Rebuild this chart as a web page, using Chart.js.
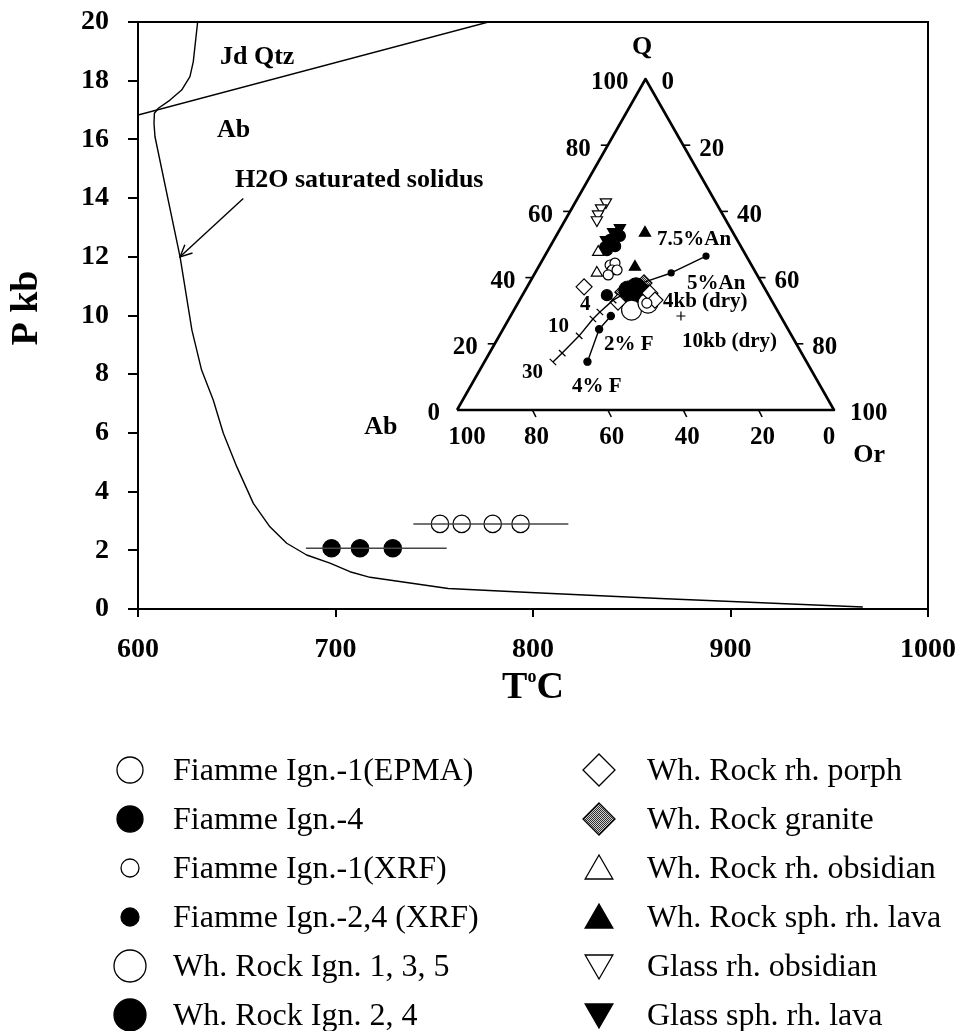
<!DOCTYPE html>
<html><head><meta charset="utf-8">
<script src="https://cdn.jsdelivr.net/npm/chart.js@4.4.1/dist/chart.umd.min.js"></script>
<style>html,body{margin:0;padding:0;background:#fff;}canvas{display:block;}</style>
</head><body>
<canvas id="c" width="973" height="1031"></canvas>
<script>
// ================= DATA =================
// Main P–T diagram (T in °C, P in kbar)
const xTickValues = [600, 700, 800, 900, 1000];
const yTickValues = [0, 2, 4, 6, 8, 10, 12, 14, 16, 18, 20];
const solidusT = [630.2, 628.0, 626.3, 622.1, 616.2, 610.3, 608.3, 608.1, 608.6, 621.3, 627.3, 632.2, 638.1, 643.2, 650.0, 658.4, 666.8, 675.3, 685.4, 697.2, 707.3, 717.5, 757.1, 798.5, 864.3, 967.0];
const solidusP = [20.0, 18.65, 18.14, 17.68, 17.34, 17.06, 16.89, 16.55, 16.09, 12.0, 9.5, 8.14, 7.12, 5.99, 4.85, 3.6, 2.80, 2.24, 1.84, 1.56, 1.27, 1.08, 0.70, 0.56, 0.36, 0.07];
const jdQtzT = [600, 777.4];
const jdQtzP = [16.83, 20];
const arrowT = [653.3, 621.3];
const arrowP = [13.99, 12.0];
const fiamme4T = [698.0, 712.4, 729.0];
const fiamme4P = [2.07, 2.07, 2.07];
const fiamme4RangeT = [685.0, 756.3];
const fiamme4RangeP = [2.07, 2.07];
const fiamme1T = [752.9, 763.9, 779.6, 793.7];
const fiamme1P = [2.90, 2.90, 2.90, 2.90];
const fiamme1RangeT = [739.4, 817.9];
const fiamme1RangeP = [2.90, 2.90];

// Ternary Q–Ab–Or inset (Q %, Or %; Ab = 100 - Q - Or)
const ternTickValues = [0, 20, 40, 60, 80, 100];
const outlineQ = [0, 0, 100, 0];
const outlineOr = [0, 100, 0, 0];
const glassObsQ = [62.8, 61.0, 59.2, 57.4];
const glassObsOr = [8.1, 7.7, 7.8, 8.4];
const glassLavaQ = [55.0, 53.8, 51.4];
const glassLavaOr = [15.7, 14.5, 13.8];
const fiamme24xrfQ = [51.4, 49.5, 49.2, 52.6, 48.3, 34.7];
const fiamme24xrfOr = [14.9, 17.2, 14.7, 16.9, 15.6, 22.4];
const wrObsQ = [47.7, 41.4];
const wrObsOr = [13.6, 16.4];
const wrLavaQ = [53.5, 43.2];
const wrLavaOr = [23.1, 25.6];
const fiamme1xrfQ = [43.8, 44.4, 42.3, 40.8, 42.3, 32.3];
const fiamme1xrfOr = [18.7, 19.7, 20.0, 19.7, 21.3, 34.2];
const wrPorphQ = [37.2, 35.3, 32.6, 33.2];
const wrPorphOr = [15.1, 33.5, 26.4, 35.9];
const wrGraniteQ = [35.6, 38.4, 36.9];
const wrGraniteOr = [26.2, 30.4, 30.1];
const wrIgn24Q = [36.25, 37.2, 35.6, 34.1];
const wrIgn24Or = [27.2, 28.9, 31.3, 29.6];
const wrIgn135Q = [30.2, 32.3];
const wrIgn135Or = [31.2, 34.5];
const pressureLineQ = [14.5, 17.2, 22.4, 27.5, 29.6, 33.2, 38.7];
const pressureLineOr = [18.2, 19.3, 21.2, 22.3, 23.1, 24.8, 30.5];
const pressureTickQ = [14.5, 17.2, 22.4, 27.5, 29.6, 33.2];
const pressureTickOr = [18.2, 19.3, 21.2, 22.3, 23.1, 24.8];
const anLineQ = [38.7, 41.4, 46.5];
const anLineOr = [30.5, 36.1, 42.8];
const anDotQ = [41.4, 46.5];
const anDotOr = [36.1, 42.8];
const fLineQ = [28.4, 24.4, 14.6];
const fLineOr = [26.6, 25.5, 27.3];
const dryQ = [28.4];
const dryOr = [45.2];

// Labels
const legendLeft = ['Fiamme Ign.-1(EPMA)', 'Fiamme Ign.-4', 'Fiamme Ign.-1(XRF)', 'Fiamme Ign.-2,4 (XRF)', 'Wh. Rock Ign. 1, 3, 5', 'Wh. Rock Ign. 2, 4'];
const legendRight = ['Wh. Rock rh. porph', 'Wh. Rock granite', 'Wh. Rock rh. obsidian', 'Wh. Rock sph. rh. lava', 'Glass rh. obsidian', 'Glass sph. rh. lava'];
const mainNotes = [['Jd Qtz', 641.5, 18.81], ['Ab', 640.0, 16.32], ['H2O saturated solidus', 649.1, 14.62]];
// ternary notes: text, x_t (Or + Q/2), Q
const ternNotes = [['7.5%An', 53.05, 51.36], ['5%An', 61.0, 38.07], ['4kb (dry)', 54.64, 32.63], ['10kb (dry)', 59.68, 20.54],
                   ['2% F', 38.99, 19.64], ['4% F', 30.5, 6.95], ['30', 17.24, 11.18], ['10', 24.14, 25.08], ['4', 32.63, 31.72]];

// ================= HELPERS =================
const SERIF = "'Liberation Serif','Times New Roman',serif";
const pts = (X, Y) => X.map((x, i) => ({x: x, y: Y[i]}));
const tern = (Q, Or) => Q.map((q, i) => ({x: Or[i] + q / 2, y: q}));

function hatchPattern() {
  const c = document.createElement('canvas'); c.width = 2; c.height = 2;
  const g = c.getContext('2d');
  g.fillStyle = '#d0d0d0'; g.fillRect(0, 0, 2, 2);
  g.fillStyle = '#303030'; g.fillRect(0, 0, 1, 1); g.fillRect(1, 1, 1, 1);
  return g.createPattern(c, 'repeat');
}
const HATCH = hatchPattern();

function lineDS(data, opts) {
  return Object.assign({data: data, showLine: true, borderColor: '#000', borderWidth: 1.4, pointRadius: 0, tension: 0, fill: false}, opts || {});
}
function ptDS(label, data, style, r, fill, opts) {
  return Object.assign({label: label, data: data, showLine: false, pointStyle: style, pointRadius: r, pointHoverRadius: r,
    pointBackgroundColor: fill, pointBorderColor: '#000', pointBorderWidth: 1.2}, opts || {});
}
const T = {xAxisID: 'tx', yAxisID: 'ty'};

function drawMarker(ctx, style, x, y, r, fill, down) {
  ctx.save();
  ctx.beginPath();
  if (style === 'circle') ctx.arc(x, y, r, 0, Math.PI * 2);
  else if (style === 'rectRot') { ctx.moveTo(x, y - r); ctx.lineTo(x + r, y); ctx.lineTo(x, y + r); ctx.lineTo(x - r, y); ctx.closePath(); }
  else if (style === 'triangle') {
    const s = down ? -1 : 1;
    ctx.moveTo(x, y - s * r); ctx.lineTo(x + 0.866 * r, y + s * 0.5 * r); ctx.lineTo(x - 0.866 * r, y + s * 0.5 * r); ctx.closePath();
  }
  ctx.fillStyle = fill || '#fff'; ctx.fill();
  ctx.lineWidth = 1.3; ctx.strokeStyle = '#000'; ctx.stroke();
  ctx.restore();
}

// ================= PLUGIN: frame, notes, ternary axes, titles, legend =================
const decor = {
  id: 'decor',
  afterDatasetsDraw(chart) {
    const ctx = chart.ctx, a = chart.chartArea;
    const X = chart.scales.x, Y = chart.scales.y, TX = chart.scales.tx, TY = chart.scales.ty;
    ctx.save();
    ctx.strokeStyle = '#000'; ctx.fillStyle = '#000';
    // top and right frame
    ctx.lineWidth = 2;
    ctx.beginPath(); ctx.moveTo(a.left, a.top); ctx.lineTo(a.right, a.top); ctx.lineTo(a.right, a.bottom); ctx.stroke();
    // arrow head
    const x0 = X.getPixelForValue(arrowT[0]), y0 = Y.getPixelForValue(arrowP[0]);
    const x1 = X.getPixelForValue(arrowT[1]), y1 = Y.getPixelForValue(arrowP[1]);
    const ang = Math.atan2(y1 - y0, x1 - x0);
    ctx.lineWidth = 1.4;
    ctx.beginPath();
    ctx.moveTo(x1 - 13 * Math.cos(ang - 0.45), y1 - 13 * Math.sin(ang - 0.45)); ctx.lineTo(x1, y1);
    ctx.lineTo(x1 - 13 * Math.cos(ang + 0.45), y1 - 13 * Math.sin(ang + 0.45));
    ctx.stroke();
    // main notes
    ctx.font = 'bold 26px ' + SERIF; ctx.textAlign = 'left'; ctx.textBaseline = 'middle';
    mainNotes.forEach(n => ctx.fillText(n[0], X.getPixelForValue(n[1]), Y.getPixelForValue(n[2])));
    // ternary ticks and labels
    ctx.font = 'bold 25px ' + SERIF; ctx.lineWidth = 1.6;
    ternTickValues.forEach(v => {
      let px = TX.getPixelForValue(v / 2), py = TY.getPixelForValue(v);
      if (v > 0 && v < 100) { ctx.beginPath(); ctx.moveTo(px - 7, py); ctx.lineTo(px, py); ctx.stroke(); }
      ctx.textAlign = 'right'; ctx.fillText(String(v), px - 17, py + 4);
      px = TX.getPixelForValue(50 + v / 2); py = TY.getPixelForValue(100 - v);
      if (v > 0 && v < 100) { ctx.beginPath(); ctx.moveTo(px, py); ctx.lineTo(px + 7, py); ctx.stroke(); }
      ctx.textAlign = 'left'; ctx.fillText(String(v), px + 16, py + 4);
      px = TX.getPixelForValue(100 - v); py = TY.getPixelForValue(0);
      if (v > 0 && v < 100) { ctx.beginPath(); ctx.moveTo(px, py); ctx.lineTo(px + 3.5, py + 7); ctx.stroke(); }
      ctx.textAlign = 'center';
      ctx.fillText(String(v), px + (v === 100 ? 10 : v === 0 ? -5 : 4), py + 28);
    });
    ctx.font = 'bold 26px ' + SERIF; ctx.textAlign = 'center';
    ctx.fillText('Q', TX.getPixelForValue(49.07), TY.getPixelForValue(109.7));
    ctx.fillText('Or', TX.getPixelForValue(109.3), TY.getPixelForValue(-13.6));
    ctx.fillText('Ab', TX.getPixelForValue(-20.2), TY.getPixelForValue(-5.1));
    ctx.font = 'bold 21px ' + SERIF; ctx.textAlign = 'left';
    ternNotes.forEach(n => ctx.fillText(n[0], TX.getPixelForValue(n[1]), TY.getPixelForValue(n[2])));
    ctx.restore();
  },
  afterDraw(chart) {
    const ctx = chart.ctx, a = chart.chartArea;
    ctx.save(); ctx.fillStyle = '#000';
    // y title
    ctx.font = 'bold 38px ' + SERIF;
    ctx.translate(37, 308); ctx.rotate(-Math.PI / 2);
    ctx.textAlign = 'center'; ctx.textBaseline = 'alphabetic'; ctx.fillText('P kb', 0, 0);
    ctx.setTransform(1, 0, 0, 1, 0, 0);
    // x title T°C
    ctx.font = 'bold 38px ' + SERIF; ctx.textBaseline = 'alphabetic'; ctx.textAlign = 'left';
    const wT = ctx.measureText('T').width, wC = ctx.measureText('C').width;
    ctx.font = 'bold 18px ' + SERIF; const wo = ctx.measureText('o').width;
    const cx = (a.left + a.right) / 2, base = 698;
    let sx = cx - (wT + wo + wC) / 2;
    ctx.font = 'bold 38px ' + SERIF; ctx.fillText('T', sx, base);
    ctx.font = 'bold 18px ' + SERIF; ctx.fillText('o', sx + wT, base - 16);
    ctx.font = 'bold 38px ' + SERIF; ctx.fillText('C', sx + wT + wo, base);
    // legend
    const rowY = i => 770 + 49 * i;
    const leftM = [['circle', 13, '#fff'], ['circle', 13, '#000'], ['circle', 9, '#fff'], ['circle', 9, '#000'], ['circle', 16, '#fff'], ['circle', 16, '#000']];
    const rightM = [['rectRot', 16, '#fff'], ['rectRot', 16, HATCH], ['triangle', 16, '#fff'], ['triangle', 16, '#000'], ['triangle', 16, '#fff', true], ['triangle', 16, '#000', true]];
    ctx.font = '32px ' + SERIF; ctx.textBaseline = 'middle'; ctx.textAlign = 'left';
    legendLeft.forEach((t, i) => { const m = leftM[i]; drawMarker(ctx, m[0], 130, rowY(i), m[1], m[2]); ctx.fillStyle = '#000'; ctx.fillText(t, 173, rowY(i) + 2); });
    legendRight.forEach((t, i) => { const m = rightM[i]; drawMarker(ctx, m[0], 599, rowY(i) + (m[0] === 'triangle' ? 3 * (m[3] ? -1 : 1) : 0), m[1], m[2], m[3]); ctx.fillStyle = '#000'; ctx.fillText(t, 647, rowY(i) + 2); });
    ctx.restore();
  }
};

// ================= CHART =================
const datasets = [
  lineDS(pts(solidusT, solidusP), {label: 'H2O saturated solidus'}),
  lineDS(pts(jdQtzT, jdQtzP), {label: 'Jd Qtz = Ab'}),
  lineDS(pts(arrowT, arrowP), {label: 'arrow'}),
  lineDS(pts(fiamme4RangeT, fiamme4RangeP), {label: 'range 4', borderColor: '#444', borderWidth: 1.5}),
  lineDS(pts(fiamme1RangeT, fiamme1RangeP), {label: 'range 1', borderColor: '#444', borderWidth: 1.5}),
  ptDS(legendLeft[1], pts(fiamme4T, fiamme4P), 'circle', 8.7, '#000'),
  ptDS(legendLeft[0], pts(fiamme1T, fiamme1P), 'circle', 8.7, '#fff'),
  // ternary inset
  lineDS(tern(outlineQ, outlineOr), Object.assign({label: 'Q-Ab-Or', borderWidth: 2.6}, T)),
  lineDS(tern(pressureLineQ, pressureLineOr), Object.assign({label: 'minima'}, T)),
  lineDS(tern(anLineQ, anLineOr), Object.assign({label: 'An'}, T)),
  lineDS(tern(fLineQ, fLineOr), Object.assign({label: 'F'}, T)),
  ptDS('ticks', tern(pressureTickQ, pressureTickOr), 'line', 4.5, '#000', Object.assign({pointRotation: 44, pointBorderWidth: 1.3}, T)),
  ptDS('An dots', tern(anDotQ, anDotOr), 'circle', 3, '#000', T),
  ptDS('F dots', tern(fLineQ, fLineOr), 'circle', 3.6, '#000', T),
  ptDS('dry', tern(dryQ, dryOr), 'cross', 4.5, '#000', Object.assign({pointBorderWidth: 1.2}, T)),
  ptDS(legendRight[4], tern(glassObsQ, glassObsOr), 'triangle', 6.5, '#fff', Object.assign({pointRotation: 180}, T)),
  ptDS(legendRight[2], tern(wrObsQ, wrObsOr), 'triangle', 6.5, '#fff', T),
  ptDS(legendLeft[2], tern(fiamme1xrfQ, fiamme1xrfOr), 'circle', 5, '#fff', T),
  ptDS(legendRight[0], tern(wrPorphQ, wrPorphOr), 'rectRot', 8, '#fff', T),
  ptDS(legendLeft[4], tern(wrIgn135Q, wrIgn135Or), 'circle', 10, '#fff', T),
  ptDS(legendLeft[5], tern(wrIgn24Q, wrIgn24Or), 'circle', 9, '#000', T),
  ptDS(legendRight[1], tern(wrGraniteQ, wrGraniteOr), 'rectRot', 8, HATCH, T),
  ptDS(legendLeft[3], tern(fiamme24xrfQ, fiamme24xrfOr), 'circle', 5.5, '#000', T),
  ptDS(legendRight[5], tern(glassLavaQ, glassLavaOr), 'triangle', 6.5, '#000', Object.assign({pointRotation: 180}, T)),
  ptDS(legendRight[3], tern(wrLavaQ, wrLavaOr), 'triangle', 6.5, '#000', T)
];

const tickFont = {family: SERIF, size: 28, weight: 'bold'};
new Chart(document.getElementById('c'), {
  type: 'scatter',
  data: {datasets: datasets},
  options: {
    responsive: false, animation: false, devicePixelRatio: 1,
    events: [],
    layout: {padding: {top: 22, right: 45, bottom: 0, left: 0}},
    plugins: {legend: {display: false}, tooltip: {enabled: false}},
    elements: {line: {borderJoinStyle: 'round'}},
    scales: {
      x: {
        type: 'linear', min: 600, max: 1000,
        afterBuildTicks: s => { s.ticks = xTickValues.map(v => ({value: v})); },
        afterFit: s => { s.height = 1031 - 609; s.paddingLeft = 0; s.paddingRight = 0; },
        ticks: {color: '#000', font: tickFont, padding: 16, maxRotation: 0, callback: v => String(v)},
        grid: {drawOnChartArea: false, color: '#000', lineWidth: 2, tickLength: 8},
        border: {color: '#000', width: 2}
      },
      y: {
        type: 'linear', min: 0, max: 20,
        afterBuildTicks: s => { s.ticks = yTickValues.map(v => ({value: v})); },
        afterFit: s => { s.width = 138; s.paddingTop = 0; s.paddingBottom = 0; },
        ticks: {color: '#000', font: tickFont, padding: 19, callback: v => String(v)},
        grid: {drawOnChartArea: false, color: '#000', lineWidth: 2, tickLength: 10},
        border: {color: '#000', width: 2}
      },
      tx: {type: 'linear', display: false, min: -84.62, max: 124.93},
      ty: {type: 'linear', display: false, min: -60.12, max: 117.22}
    }
  },
  plugins: [decor]
});
</script>
</body></html>
